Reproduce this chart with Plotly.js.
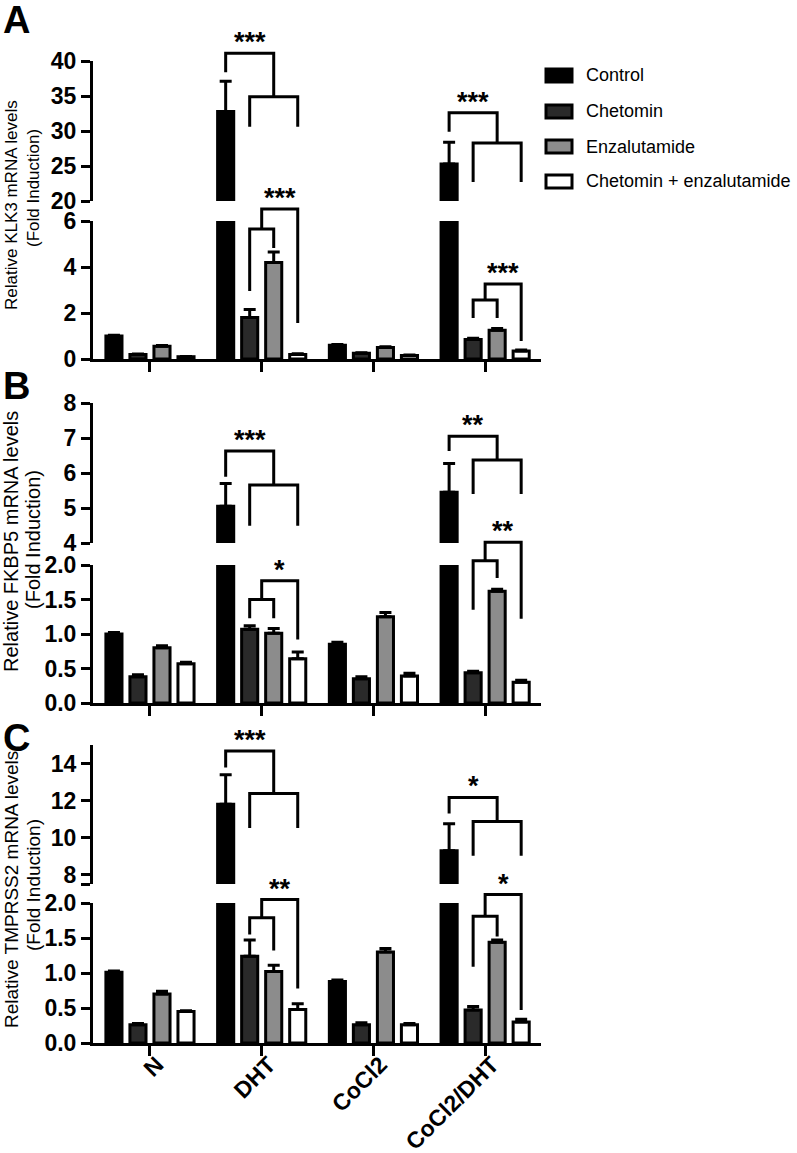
<!DOCTYPE html>
<html>
<head>
<meta charset="utf-8">
<script src="https://cdn.plot.ly/plotly-3.0.1.min.js"></script>
<style>html,body{margin:0;padding:0;background:#fff}</style>
</head>
<body>
<div id="chart" style="width:797px;height:1153px"></div>
<script>
const W = 797, H = 1153;
const FONT = "Liberation Sans, Arial, sans-serif";

// categories and series
const groups = ["N", "DHT", "CoCl2", "CoCl2/DHT"];
const seriesNames = ["Control", "Chetomin", "Enzalutamide", "Chetomin + enzalutamide"];
const seriesColors = ["#000000", "#2a2a2a", "#8c8c8c", "#ffffff"];

// A: KLK3
const klk3Control = [1.0, 32.8, 0.6, 25.3];
const klk3ControlErr = [0.03, 4.3, 0.03, 3.1];
const klk3Chetomin = [0.2, 1.8, 0.25, 0.85];
const klk3ChetominErr = [0.02, 0.35, 0.02, 0.05];
const klk3Enza = [0.55, 4.2, 0.5, 1.25];
const klk3EnzaErr = [0.04, 0.45, 0.03, 0.08];
const klk3Combo = [0.1, 0.2, 0.15, 0.35];
const klk3ComboErr = [0.01, 0.03, 0.02, 0.04];

// B: FKBP5
const fkbp5Control = [1.0, 5.05, 0.85, 5.45];
const fkbp5ControlErr = [0.02, 0.65, 0.03, 0.82];
const fkbp5Chetomin = [0.38, 1.07, 0.35, 0.44];
const fkbp5ChetominErr = [0.03, 0.05, 0.03, 0.02];
const fkbp5Enza = [0.8, 1.01, 1.25, 1.62];
const fkbp5EnzaErr = [0.03, 0.07, 0.06, 0.03];
const fkbp5Combo = [0.57, 0.64, 0.39, 0.3];
const fkbp5ComboErr = [0.02, 0.1, 0.04, 0.03];

// C: TMPRSS2
const tmprss2Control = [1.01, 11.8, 0.88, 9.3];
const tmprss2ControlErr = [0.02, 1.6, 0.02, 1.45];
const tmprss2Chetomin = [0.26, 1.24, 0.26, 0.47];
const tmprss2ChetominErr = [0.02, 0.23, 0.03, 0.05];
const tmprss2Enza = [0.7, 1.02, 1.3, 1.44];
const tmprss2EnzaErr = [0.04, 0.09, 0.05, 0.03];
const tmprss2Combo = [0.45, 0.48, 0.26, 0.3];
const tmprss2ComboErr = [0.01, 0.08, 0.02, 0.04];

// layout of the 3 panels (pixel positions of the broken axes)
const XL = 93, XR = 541;
const xRange = [-0.51, 3.5];
const panels = [
  {
    letter: "A", letterY: 20,
    title: ["Relative KLK3 mRNA levels", "(Fold Induction)"], titleSize: 17, titleY: [205, 188],
    values: [klk3Control, klk3Chetomin, klk3Enza, klk3Combo],
    errors: [klk3ControlErr, klk3ChetominErr, klk3EnzaErr, klk3ComboErr],
    upper: {range: [20, 40], top: 61, bottom: 201, tickvals: [20, 25, 30, 35, 40]},
    lower: {range: [0, 6], top: 221, bottom: 359, tickvals: [0, 2, 4, 6]},
    brackets: [
      {g: 1, ax: "upper", inner: [1, 3], innerTop: 34.9, legs: [30.6, 30.6], single: 0, singleLeg: 38.4, outer: 41.1, label: "***"},
      {g: 1, ax: "lower", inner: [1, 2], innerTop: 5.65, legs: [2.96, 4.83], single: 3, singleLeg: 1.57, outer: 6.52, label: "***"},
      {g: 3, ax: "upper", inner: [1, 3], innerTop: 28.3, legs: [22.7, 22.7], single: 0, singleLeg: 29.9, outer: 32.6, label: "***"},
      {g: 3, ax: "lower", inner: [1, 2], innerTop: 2.57, legs: [1.78, 1.78], single: 3, singleLeg: 0.78, outer: 3.26, label: "***"}
    ]
  },
  {
    letter: "B", letterY: 386,
    title: ["Relative FKBP5 mRNA levels", "(Fold Induction)"], titleSize: 20, titleY: [542, 540],
    values: [fkbp5Control, fkbp5Chetomin, fkbp5Enza, fkbp5Combo],
    errors: [fkbp5ControlErr, fkbp5ChetominErr, fkbp5EnzaErr, fkbp5ComboErr],
    upper: {range: [4, 8], top: 403, bottom: 543, tickvals: [4, 5, 6, 7, 8]},
    lower: {range: [0, 2], top: 565, bottom: 703, tickvals: [0, 0.5, 1, 1.5, 2], fmt: ".1f"},
    brackets: [
      {g: 1, ax: "upper", inner: [1, 3], innerTop: 5.66, legs: [4.49, 4.49], single: 0, singleLeg: 5.89, outer: 6.63, label: "***"},
      {g: 1, ax: "lower", inner: [1, 2], innerTop: 1.5, legs: [1.23, 1.23], single: 3, singleLeg: 0.92, outer: 1.77, label: "*"},
      {g: 3, ax: "upper", inner: [1, 3], innerTop: 6.37, legs: [5.4, 5.4], single: 0, singleLeg: 6.63, outer: 7.05, label: "**"},
      {g: 3, ax: "lower", inner: [1, 2], innerTop: 2.06, legs: [1.35, 1.81], single: 3, singleLeg: 1.22, outer: 2.33, label: "**"}
    ]
  },
  {
    letter: "C", letterY: 738,
    title: ["Relative TMPRSS2 mRNA levels", "(Fold Induction)"], titleSize: 19, titleY: [890, 885],
    values: [tmprss2Control, tmprss2Chetomin, tmprss2Enza, tmprss2Combo],
    errors: [tmprss2ControlErr, tmprss2ChetominErr, tmprss2EnzaErr, tmprss2ComboErr],
    upper: {range: [7.5, 15], top: 745, bottom: 884, tickvals: [7.5, 8, 10, 12, 14], ticktext: ["", "8", "10", "12", "14"]},
    lower: {range: [0, 2], top: 903, bottom: 1043, tickvals: [0, 0.5, 1, 1.5, 2], fmt: ".1f"},
    brackets: [
      {g: 1, ax: "upper", inner: [1, 3], innerTop: 12.38, legs: [10.52, 10.52], single: 0, singleLeg: 13.78, outer: 14.68, label: "***"},
      {g: 1, ax: "lower", inner: [1, 2], innerTop: 1.79, legs: [1.55, 1.32], single: 3, singleLeg: 0.78, outer: 2.05, label: "**"},
      {g: 3, ax: "upper", inner: [1, 3], innerTop: 10.87, legs: [9.02, 9.02], single: 0, singleLeg: 11.31, outer: 12.17, label: "*"},
      {g: 3, ax: "lower", inner: [1, 2], innerTop: 1.81, legs: [1.09, 1.52], single: 3, singleLeg: 0.47, outer: 2.12, label: "*"}
    ]
  }
];

const BARGAP = 0.14, NSER = 4;
const slot = (1 - BARGAP) / NSER;
const barOffset = (s) => (s - (NSER - 1) / 2) * slot;

const px2paperX = (p) => p / W;
const px2paperY = (p) => 1 - p / H;
const dataX = (v) => px2paperX(XL + (v - xRange[0]) / (xRange[1] - xRange[0]) * (XR - XL));
const dataY = (ax, v) => px2paperY(ax.bottom - (v - ax.range[0]) / (ax.range[1] - ax.range[0]) * (ax.bottom - ax.top));

const traces = [];
const layout = {
  width: W, height: H,
  margin: {l: 0, r: 0, t: 0, b: 0},
  paper_bgcolor: "#fff", plot_bgcolor: "rgba(0,0,0,0)",
  showlegend: false,
  barmode: "group", bargap: BARGAP, bargroupgap: 0.33,
  font: {family: FONT, color: "#000"},
  shapes: [], annotations: []
};

const axisStyle = {
  showline: true, linewidth: 3, linecolor: "#000",
  ticks: "outside", ticklen: 9, tickwidth: 3, tickcolor: "#000",
  showgrid: false, zeroline: false, fixedrange: true,
  tickfont: {family: FONT, size: 23, weight: 700, color: "#000"}
};

panels.forEach((p, i) => {
  const xId = i === 0 ? "x" : "x" + (i + 1);
  const yLow = i === 0 ? "y" : "y" + (2 * i + 1);
  const yUp = "y" + (2 * i + 2);
  const xKey = "xaxis" + (i === 0 ? "" : i + 1);
  const yLowKey = "yaxis" + (i === 0 ? "" : 2 * i + 1);
  const yUpKey = "yaxis" + (2 * i + 2);

  layout[xKey] = Object.assign({}, axisStyle, {
    type: "category", anchor: yLow,
    domain: [XL / W, XR / W], range: xRange,
    tickvals: groups, ticktext: groups,
    showticklabels: i === panels.length - 1, tickangle: -45, ticklen: 10,
    ticklabelstandoff: -14, ticklabelshift: 7
  });
  [[yLowKey, p.lower], [yUpKey, p.upper]].forEach(([key, ax]) => {
    layout[key] = Object.assign({}, axisStyle, {
      anchor: xId,
      domain: [px2paperY(ax.bottom), px2paperY(ax.top)],
      range: ax.range,
      tickmode: "array", tickvals: ax.tickvals,
      ticktext: ax.ticktext || ax.tickvals.map(v => ax.fmt ? v.toFixed(1) : String(v))
    });
  });

  [[yLow, p.lower], [yUp, p.upper]].forEach(([yId]) => {
    p.values.forEach((vals, s) => {
      traces.push({
        type: "bar", x: groups, y: vals, xaxis: xId, yaxis: yId,
        name: seriesNames[s], hoverinfo: "skip",
        marker: {color: seriesColors[s], line: {color: "#000", width: 3}},
        error_y: {
          type: "data", symmetric: false, array: p.errors[s],
          arrayminus: vals.map(() => 0), color: "#000", thickness: 3, width: 6
        }
      });
    });
  });

  // significance brackets
  p.brackets.forEach(b => {
    const ax = p[b.ax];
    const xa = dataX(b.g + barOffset(b.inner[0]));
    const xb = dataX(b.g + barOffset(b.inner[1]));
    const xm = (xa + xb) / 2;
    const xc = dataX(b.g + barOffset(b.single));
    const yTop = dataY(ax, b.innerTop);
    const yOut = dataY(ax, b.outer);
    const line = {color: "#000", width: 3};
    layout.shapes.push({
      type: "path", xref: "paper", yref: "paper", line: line,
      path: `M${xa},${dataY(ax, b.legs[0])}L${xa},${yTop}L${xb},${yTop}L${xb},${dataY(ax, b.legs[1])}`
    });
    layout.shapes.push({
      type: "path", xref: "paper", yref: "paper", line: line,
      path: `M${xc},${dataY(ax, b.singleLeg)}L${xc},${yOut}L${xm},${yOut}L${xm},${yTop}`
    });
    layout.annotations.push({
      xref: "paper", yref: "paper", x: (xc + xm) / 2, y: yOut,
      xanchor: "center", yanchor: "bottom", yshift: -6, showarrow: false,
      text: b.label, font: {family: FONT, size: 27, weight: 700}
    });
  });

  // panel letter and y title
  layout.annotations.push({
    xref: "paper", yref: "paper", x: px2paperX(1), y: px2paperY(p.letterY),
    xanchor: "left", yanchor: "middle", showarrow: false,
    text: p.letter, font: {family: FONT, size: 38, weight: 700}
  });
  p.title.forEach((t, k) => {
    layout.annotations.push({
      xref: "paper", yref: "paper", x: px2paperX(k === 0 ? 11 : 33), y: px2paperY(p.titleY[k]),
      xanchor: "center", yanchor: "middle", showarrow: false, textangle: -90,
      text: t, font: {family: FONT, size: p.titleSize}
    });
  });
});

// legend drawn by hand (boxes + labels)
const legendTop = [69, 105, 140, 175];
seriesNames.forEach((name, s) => {
  layout.shapes.push({
    type: "rect", xref: "paper", yref: "paper",
    x0: px2paperX(546), x1: px2paperX(572),
    y0: px2paperY(legendTop[s]), y1: px2paperY(legendTop[s] + 13),
    fillcolor: seriesColors[s], line: {color: "#000", width: 3}
  });
  layout.annotations.push({
    xref: "paper", yref: "paper", x: px2paperX(584), y: px2paperY(legendTop[s] + 6.5),
    xanchor: "left", yanchor: "middle", showarrow: false,
    text: name, font: {family: FONT, size: 18}
  });
});

Plotly.newPlot("chart", traces, layout, {staticPlot: true});
</script>
</body>
</html>
